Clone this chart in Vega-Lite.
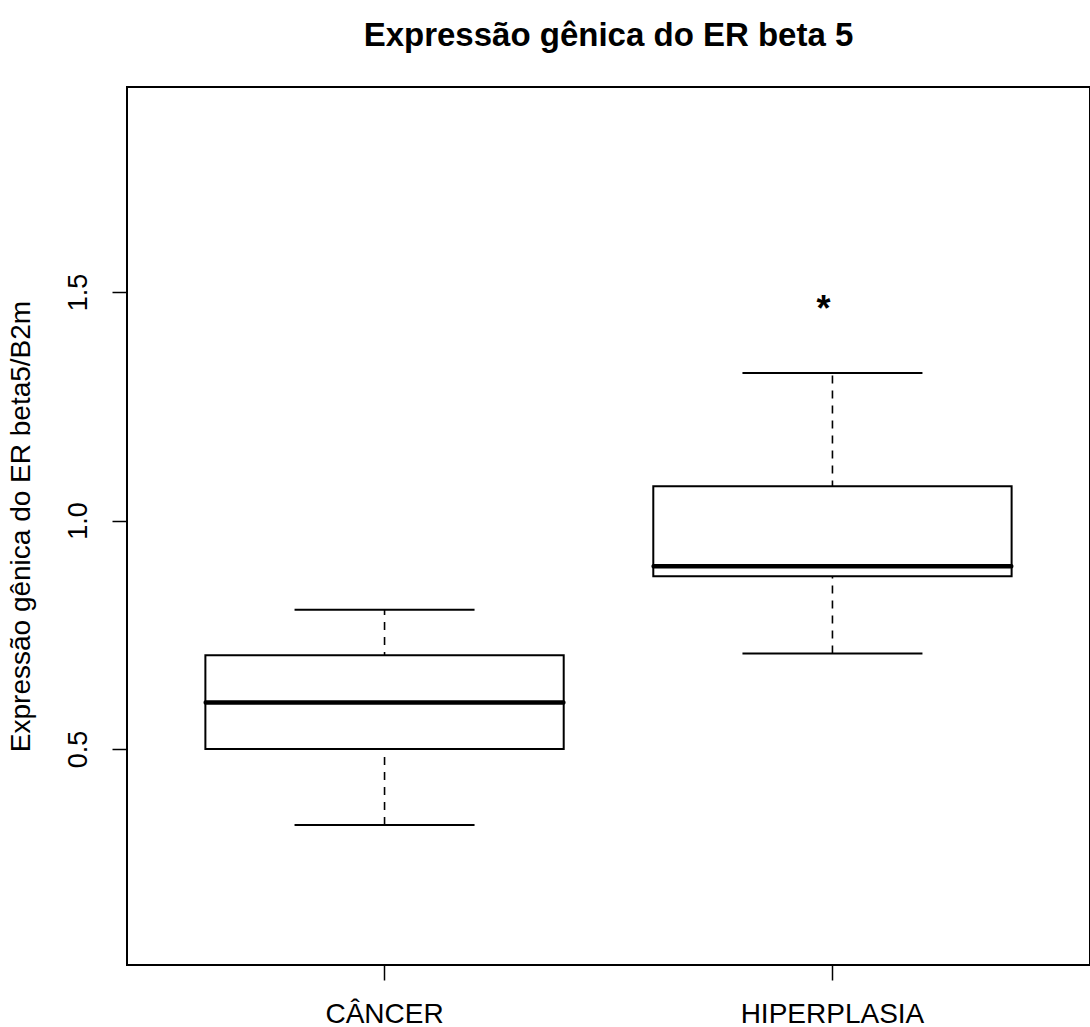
{
  "$schema": "https://vega.github.io/schema/vega-lite/v6.json",
  "width": 963,
  "height": 878,
  "autosize": "none",
  "padding": {"left": 127, "top": 87, "right": 0, "bottom": 62},
  "background": "white",
  "config": {
    "font": "Liberation Sans",
    "view": {"stroke": "black", "strokeWidth": 2},
    "axis": {"grid": false, "domain": false, "tickColor": "black", "tickWidth": 1.5, "labelColor": "black", "titleColor": "black", "labelFont": "Liberation Sans", "titleFont": "Liberation Sans", "titleFontWeight": "normal", "labelLimit": 0}
  },
  "title": {"text": "Expressão gênica do ER beta 5", "fontSize": 33, "fontWeight": "bold", "font": "Liberation Sans", "anchor": "middle", "frame": "group", "offset": 34, "color": "black"},
  "datasets": {
    "caixas": [
      {"grupo": "CÂNCER", "minimo": 0.334, "q1": 0.5, "mediana": 0.602, "q3": 0.705, "maximo": 0.805},
      {"grupo": "HIPERPLASIA", "minimo": 0.709, "q1": 0.878, "mediana": 0.9, "q3": 1.075, "maximo": 1.323}
    ],
    "atipicos": [
      {"grupo": "HIPERPLASIA", "valor": 1.48}
    ]
  },
  "encoding": {
    "x": {"field": "grupo", "type": "nominal", "sort": ["CÂNCER", "HIPERPLASIA"],
      "scale": {"domain": ["CÂNCER", "HIPERPLASIA"], "paddingInner": 0.2, "paddingOuter": 0.175},
      "axis": {"title": null, "labelAngle": 0, "labelFontSize": 28, "tickSize": 15, "labelPadding": 20, "labelBaseline": "top", "labelLimit": 0}}
  },
  "layer": [
    {
      "data": {"name": "caixas"},
      "mark": {"type": "rule", "strokeDash": [8, 7], "strokeWidth": 1.6, "color": "black"},
      "encoding": {
        "y": {"field": "minimo", "type": "quantitative",
          "scale": {"domain": [0.0274, 1.9486], "nice": false, "zero": false},
          "axis": {"values": [0.5, 1.0, 1.5], "format": ".1f", "labelAngle": -90, "labelAlign": "center", "labelBaseline": "bottom", "labelFontSize": 27, "tickSize": 15, "labelPadding": 20, "title": "Expressão gênica do ER beta5/B2m", "titleFontSize": 28, "titlePadding": 29}},
        "y2": {"field": "maximo"}
      }
    },
    {
      "data": {"name": "caixas"},
      "mark": {"type": "bar", "fill": "white", "stroke": "black", "strokeWidth": 2},
      "encoding": {
        "y": {"field": "q1", "type": "quantitative"},
        "y2": {"field": "q3"}
      }
    },
    {
      "data": {"name": "caixas"},
      "mark": {"type": "tick", "color": "black", "thickness": 2, "size": 180, "opacity": 1},
      "encoding": {"y": {"field": "minimo", "type": "quantitative"}}
    },
    {
      "data": {"name": "caixas"},
      "mark": {"type": "tick", "color": "black", "thickness": 2, "size": 180, "opacity": 1},
      "encoding": {"y": {"field": "maximo", "type": "quantitative"}}
    },
    {
      "data": {"name": "caixas"},
      "mark": {"type": "tick", "color": "black", "thickness": 4.5, "size": 362, "opacity": 1, "cornerRadius": 2},
      "encoding": {"y": {"field": "mediana", "type": "quantitative"}}
    },
    {
      "data": {"name": "atipicos"},
      "mark": {"type": "text", "text": "*", "fontSize": 36, "fontWeight": "bold", "color": "black", "baseline": "middle", "dy": 9, "dx": -9},
      "encoding": {"y": {"field": "valor", "type": "quantitative"}}
    }
  ]
}
